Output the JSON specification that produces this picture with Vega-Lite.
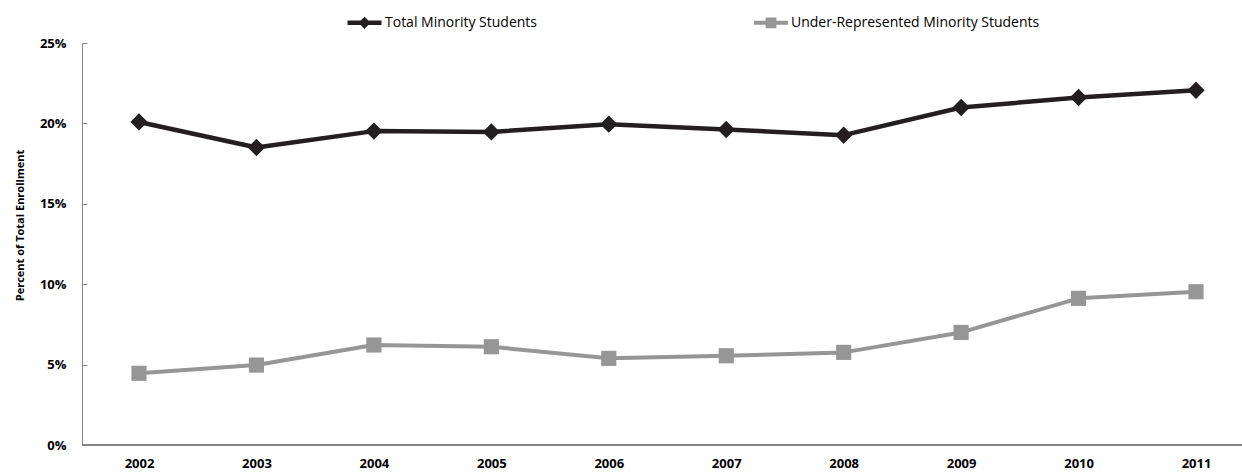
{
  "$schema": "https://vega.github.io/schema/vega-lite/v6.json",
  "width": 1160,
  "height": 402,
  "autosize": "none",
  "padding": {"left": 82, "top": 43, "right": 0, "bottom": 31},
  "config": {"font": "Open Sans", "view": {"stroke": null}},
  "data": {"values": [
    {"year": "2002", "series": "Total Minority Students", "pct": 0.2009},
    {"year": "2003", "series": "Total Minority Students", "pct": 0.1850},
    {"year": "2004", "series": "Total Minority Students", "pct": 0.1952},
    {"year": "2005", "series": "Total Minority Students", "pct": 0.1947},
    {"year": "2006", "series": "Total Minority Students", "pct": 0.1995},
    {"year": "2007", "series": "Total Minority Students", "pct": 0.1962},
    {"year": "2008", "series": "Total Minority Students", "pct": 0.1927},
    {"year": "2009", "series": "Total Minority Students", "pct": 0.2099},
    {"year": "2010", "series": "Total Minority Students", "pct": 0.2161},
    {"year": "2011", "series": "Total Minority Students", "pct": 0.2206},
    {"year": "2002", "series": "Under-Represented Minority Students", "pct": 0.0446},
    {"year": "2003", "series": "Under-Represented Minority Students", "pct": 0.0497},
    {"year": "2004", "series": "Under-Represented Minority Students", "pct": 0.0622},
    {"year": "2005", "series": "Under-Represented Minority Students", "pct": 0.0611},
    {"year": "2006", "series": "Under-Represented Minority Students", "pct": 0.0539},
    {"year": "2007", "series": "Under-Represented Minority Students", "pct": 0.0555},
    {"year": "2008", "series": "Under-Represented Minority Students", "pct": 0.0576},
    {"year": "2009", "series": "Under-Represented Minority Students", "pct": 0.0700},
    {"year": "2010", "series": "Under-Represented Minority Students", "pct": 0.0912},
    {"year": "2011", "series": "Under-Represented Minority Students", "pct": 0.0953}
  ]},
  "layer": [
    {
      "mark": {"type": "rule", "color": "#868686", "strokeWidth": 1},
      "encoding": {"y": {"datum": 0, "type": "quantitative", "scale": {"domain": [0, 0.25], "nice": false}}}
    },
    {
      "mark": {"type": "line", "strokeJoin": "round"},
      "encoding": {
        "x": {"field": "year", "type": "ordinal", "sort": null,
          "scale": {"type": "point", "range": [57, 1114], "padding": 0},
          "axis": {"title": null, "domain": false, "ticks": false, "labelAngle": 0, "labelPadding": 12,
            "labelFont": "Open Sans", "labelFontWeight": "bold", "labelFontSize": 13, "labelColor": "#000"}},
        "y": {"field": "pct", "type": "quantitative", "scale": {"domain": [0, 0.25], "nice": false},
          "axis": {"values": [0, 0.05, 0.1, 0.15, 0.2, 0.25], "format": ".0%", "grid": false,
            "domainColor": "#868686", "tickColor": "#868686", "tickSize": -5, "labelPadding": 21,
            "labelFont": "Open Sans", "labelFontWeight": "bold", "labelFontSize": 13, "labelColor": "#000",
            "title": "Percent of Total Enrollment", "titleFont": "Open Sans", "titleFontSize": 11,
            "titleFontWeight": "bold", "titleColor": "#000", "titleAngle": 270, "titleX": -62, "titleY": 182,
            "titleAlign": "center", "titleBaseline": "middle"}},
        "color": {"field": "series", "type": "nominal",
          "scale": {"domain": ["Total Minority Students", "Under-Represented Minority Students"], "range": ["#231f20", "#969696"]},
          "legend": {"orient": "none", "legendX": 263, "legendY": -40, "direction": "horizontal", "title": null,
            "labelFont": "Open Sans", "labelFontSize": 14, "labelColor": "#000", "labelLimit": 400, "symbolSize": 1156,
            "labelOffset": 1, "columnPadding": 208, "symbolOpacity": 1}},
        "strokeWidth": {"field": "series", "type": "ordinal",
          "scale": {"domain": ["Total Minority Students", "Under-Represented Minority Students"], "range": [4.5, 4]}, "legend": null}
      }
    },
    {
      "transform": [{"filter": "datum.series === 'Total Minority Students'"}],
      "mark": {"type": "point", "filled": true, "opacity": 1, "shape": "diamond", "size": 300, "color": "#231f20"},
      "encoding": {
        "x": {"field": "year", "type": "ordinal", "sort": null},
        "y": {"field": "pct", "type": "quantitative"}
      }
    },
    {
      "transform": [{"filter": "datum.series === 'Under-Represented Minority Students'"}],
      "mark": {"type": "point", "filled": true, "opacity": 1, "shape": "square", "size": 230, "color": "#969696"},
      "encoding": {
        "x": {"field": "year", "type": "ordinal", "sort": null},
        "y": {"field": "pct", "type": "quantitative"}
      }
    },
    {
      "mark": {"type": "point", "filled": true, "opacity": 0},
      "encoding": {
        "x": {"field": "year", "type": "ordinal", "sort": null},
        "y": {"field": "pct", "type": "quantitative"},
        "color": {"field": "series", "type": "nominal"},
        "shape": {"field": "series", "type": "nominal",
          "scale": {"domain": ["Total Minority Students", "Under-Represented Minority Students"],
            "range": ["M-1,0H1M0,-0.17L0.17,0L0,0.17L-0.17,0ZM0,-0.05L0.05,0L0,0.05L-0.05,0Z", "M-1,0H1M-0.2,-0.2H0.2V0.2H-0.2ZM-0.08,-0.08H0.08V0.08H-0.08Z"]}}
      }
    }
  ]
}
